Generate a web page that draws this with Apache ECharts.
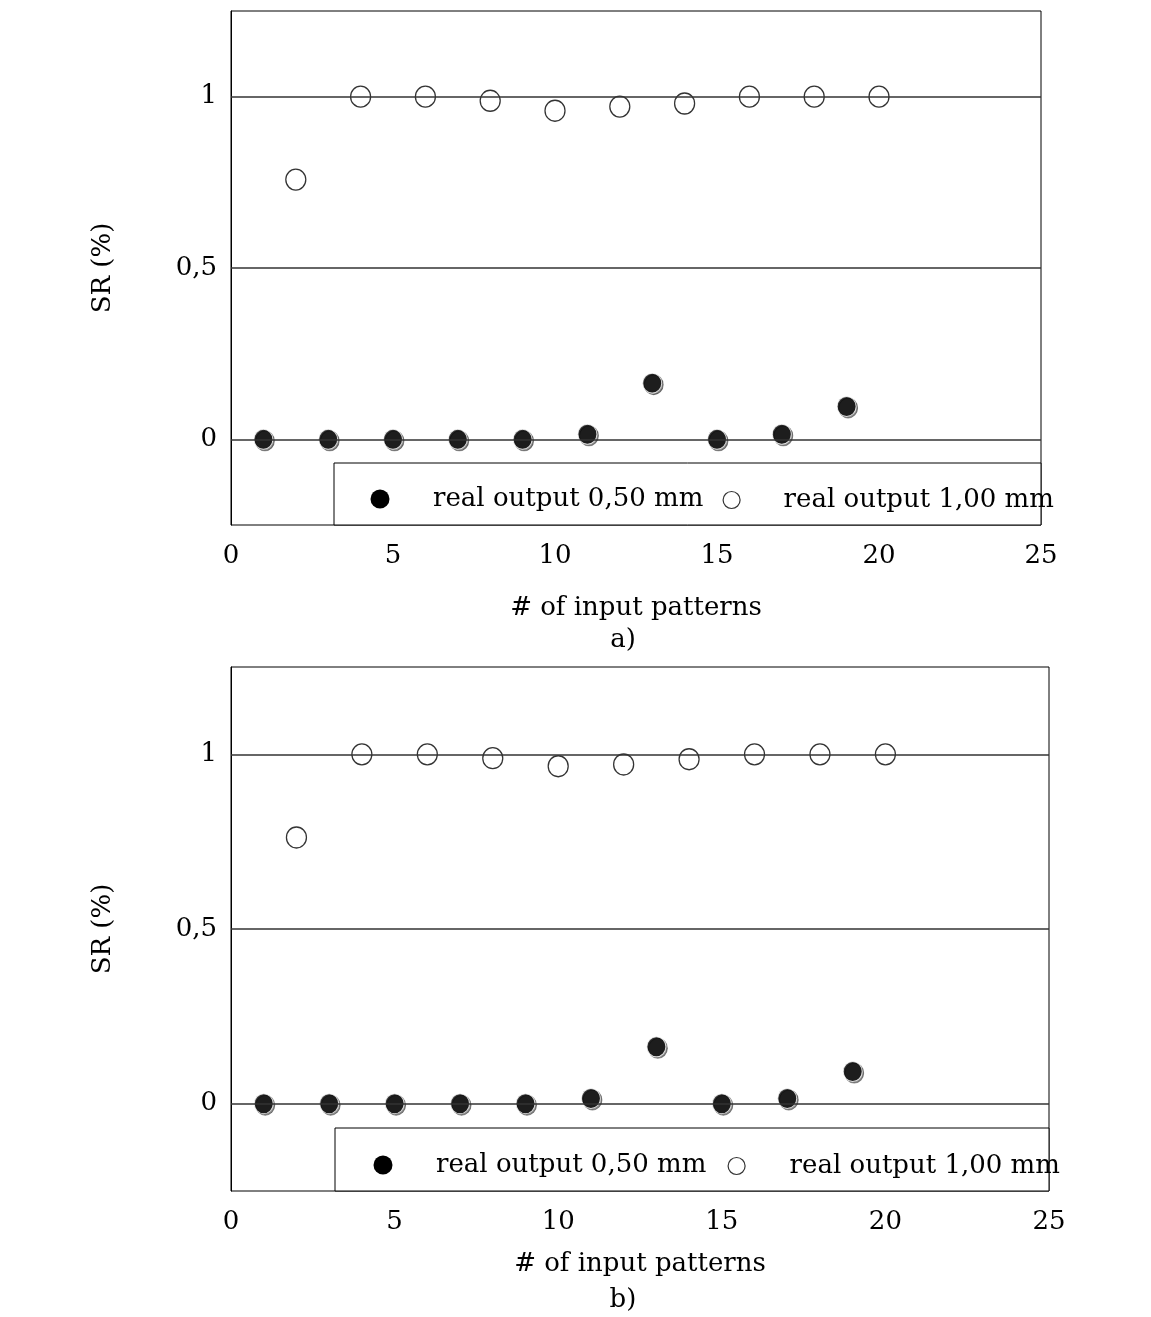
<!DOCTYPE html>
<html>
<head>
<meta charset="utf-8">
<script src="https://cdn.jsdelivr.net/npm/echarts@6/dist/echarts.min.js"></script>
<style>
html,body{margin:0;padding:0;background:#fff;}
#chart{width:1151px;height:1317px;}
</style>
</head>
<body>
<div id="chart"></div>
<script>
// ---- data ----
const xTickValues = [0, 5, 10, 15, 20, 25];
const yTickLabels = { '0': '0', '0.5': '0,5', '1': '1' };
const seriesNames = ['real output 0,50 mm', 'real output 1,00 mm'];
const panelLabels = ['a)', 'b)'];

const x050 = [1, 3, 5, 7, 9, 11, 13, 15, 17, 19];
const x100 = [2, 4, 6, 8, 10, 12, 14, 16, 18, 20];

const a050 = [0, 0, 0, 0, 0, 0.015, 0.164, 0, 0.015, 0.096];
const a100 = [0.758, 1, 1, 0.988, 0.959, 0.971, 0.980, 1, 1, 1];

const b050 = [0, 0, 0, 0, 0, 0.015, 0.163, 0, 0.015, 0.092];
const b100 = [0.762, 1, 1, 0.989, 0.966, 0.971, 0.986, 1, 1, 1];

const gridLevels = [0, 0.5, 1];

// ---- layout ----
const FONT = 'DejaVu Serif';
const FS = 26;
const legendIcon = [[19, 20], [17, 18]];
const panels = [
  { left: 231, top: 11, width: 810, height: 514, s050: a050, s100: a100,
    legendY: 496, leg: [[370.5, 38.5], [722.5, 38.5]], box: [334, 463, 707, 62], nameGap: 70, labY: 622 },
  { left: 231, top: 667, width: 818, height: 524, s050: b050, s100: b100,
    legendY: 1162, leg: [[373.5, 38.5], [727.5, 39.5]], box: [335, 1128, 714, 63], nameGap: 60, labY: 1282 }
];

const zip = (xs, ys) => xs.map((x, i) => [x, ys[i]]);

const option = {
  backgroundColor: '#fff',
  animation: false,
  textStyle: { fontFamily: FONT, color: '#000' },
  grid: [], xAxis: [], yAxis: [], series: [], legend: [], graphic: [], title: []
};

panels.forEach((p, i) => {
  option.grid.push({ left: p.left, top: p.top, width: p.width, height: p.height,
    show: true, borderColor: '#000', borderWidth: 1, backgroundColor: '#fff' });
  option.xAxis.push({
    gridIndex: i, type: 'value', min: 0, max: 25, interval: 5,
    name: '# of input patterns', nameLocation: 'middle', nameGap: p.nameGap,
    nameTextStyle: { fontFamily: FONT, fontSize: FS, color: '#000' },
    axisLine: { show: false }, axisTick: { show: false }, splitLine: { show: false },
    axisLabel: { fontFamily: FONT, fontSize: FS, color: '#000', margin: 18,
      formatter: v => xTickValues.includes(v) ? String(v) : '' }
  });
  option.yAxis.push({
    gridIndex: i, type: 'value', min: -0.25, max: 1.25, interval: 0.25,
    name: 'SR (%)', nameLocation: 'middle', nameGap: 115, nameRotate: 90,
    nameTextStyle: { fontFamily: FONT, fontSize: FS, color: '#000' },
    axisLine: { show: true, lineStyle: { color: '#000', width: 1 } },
    axisTick: { show: false }, splitLine: { show: false },
    axisLabel: { fontFamily: FONT, fontSize: FS, color: '#000', margin: 14,
      formatter: v => { const k = String(Math.round(v * 100) / 100); return yTickLabels[k] !== undefined ? yTickLabels[k] : ''; } }
  });
  // horizontal reference lines
  option.series.push({
    type: 'scatter', xAxisIndex: i, yAxisIndex: i, data: [], z: 1, silent: true,
    markLine: { silent: true, symbol: 'none', label: { show: false },
      lineStyle: { color: '#333', width: 1.5, type: 'solid' },
      data: gridLevels.map(v => ({ yAxis: v })) }
  });
  option.series.push({
    name: seriesNames[0], type: 'scatter', xAxisIndex: i, yAxisIndex: i, z: 3,
    symbol: 'circle', symbolSize: [19, 20],
    itemStyle: { color: '#000', borderColor: '#fff', borderWidth: 1,
      shadowColor: 'rgba(0,0,0,0.55)', shadowBlur: 0, shadowOffsetX: 1.5, shadowOffsetY: 1.5 },
    data: zip(x050, p.s050)
  });
  option.series.push({
    name: seriesNames[1], type: 'scatter', xAxisIndex: i, yAxisIndex: i, z: 3,
    symbol: 'circle', symbolSize: [20, 21],
    itemStyle: { color: '#fff', borderColor: '#000', borderWidth: 1.3 },
    data: zip(x100, p.s100)
  });
  option.graphic.push({
    type: 'rect', z: 5,
    shape: { x: p.box[0], y: p.box[1], width: p.box[2], height: p.box[3] },
    style: { fill: '#fff', stroke: '#000', lineWidth: 1 }
  });
  p.leg.forEach((lg, j) => {
    const [w, h] = legendIcon[j];
    option.legend.push({
      data: [seriesNames[j]], left: lg[0], top: p.legendY - h / 2, z: 10, padding: 0,
      itemWidth: w, itemHeight: h, selectedMode: false,
      itemStyle: j === 0 ? { color: '#000', borderColor: '#000', borderWidth: 0, opacity: 1 } : { color: '#fff', borderColor: '#000', borderWidth: 1.2 },
      textStyle: { fontFamily: FONT, fontSize: FS, color: '#000', padding: [0, 0, 0, lg[1]] }
    });
  });
  option.title.push({
    text: panelLabels[i], left: 618, top: p.labY, textAlign: 'center',
    textStyle: { fontFamily: FONT, fontSize: FS, fontWeight: 'normal', color: '#000' }
  });
});

const chart = echarts.init(document.getElementById('chart'), null, { renderer: 'canvas' });
chart.setOption(option);
</script>
</body>
</html>
